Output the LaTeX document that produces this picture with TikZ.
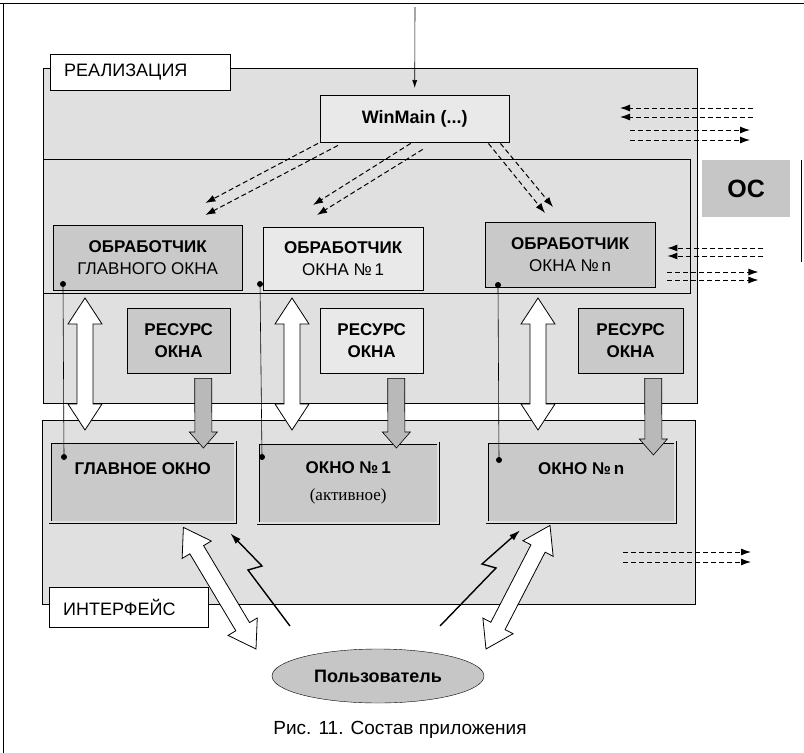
\documentclass[tikz,border=0pt]{standalone}
\usepackage{fontspec}
\setmainfont{Liberation Sans}
\newfontfamily\timesfont{Liberation Serif}
\usetikzlibrary{arrows.meta,positioning,calc,shapes.geometric}

% block arrows between two points (node anchors)
\newcommand{\blockends}[2]{%
  \path (#1) coordinate (bkA) (#2) coordinate (bkB);
  \pgfpointanchor{bkA}{center}\pgfgetlastxy{\bkax}{\bkay}%
  \pgfpointanchor{bkB}{center}\pgfgetlastxy{\bkbx}{\bkby}%
  \pgfmathsetmacro\bklen{veclen(\bkbx-\bkax,\bkby-\bkay)}%
  \pgfmathsetmacro\bkang{atan2(\bkby-\bkay,\bkbx-\bkax)}}
\newcommand{\twoway}[2]{%
  \blockends{#1}{#2}
  \begin{scope}[shift={(\bkax,\bkay)},rotate=\bkang]
    \draw[fill=white,line width=0.8pt] (0,0) -- (26,-17) -- (26,-8) -- (\bklen-26,-8) -- (\bklen-26,-17)
      -- (\bklen,0) -- (\bklen-26,17) -- (\bklen-26,8) -- (26,8) -- (26,17) -- cycle;
  \end{scope}}
\newcommand{\feedarrow}[2]{%
  \blockends{#1}{#2}
  \begin{scope}[shift={(\bkax,\bkay)},rotate=\bkang]
    \draw[fill=gray!55,line width=0.6pt] (0,-8.5) -- (\bklen-16,-8.5) -- (\bklen-16,-14) -- (\bklen,0)
      -- (\bklen-16,14) -- (\bklen-16,8.5) -- (0,8.5) -- cycle;
  \end{scope}}

\begin{document}
\begin{tikzpicture}[x=1pt,y=-1pt,font=\fontsize{17}{22}\selectfont,
  zone/.style={draw,line width=1pt,fill=gray!24,anchor=north west,inner sep=0pt},
  dark/.style={draw,fill=gray!42,anchor=north west,inner sep=0pt,align=center},
  light/.style={draw,fill=gray!17,anchor=north west,inner sep=0pt,align=center},
  tag/.style={draw,fill=white,anchor=north west,inner xsep=14pt,inner ysep=0pt,align=left,font=\fontsize{18}{20}\selectfont},
  win/.style={dark,double=gray!24,double distance=2.5pt,font=\bfseries\fontsize{17}{27}\selectfont},
  dsh/.style={dash pattern=on 5pt off 3pt,line width=1pt,-{Latex[length=10pt,width=7pt]}},
  bolt/.style={line width=1.4pt,-{Latex[length=11pt,width=7pt]}},
  pin/.style={circle,fill,inner sep=0pt,minimum size=6pt}]
  \useasboundingbox[fill=white] (0,0) rectangle (804,753);
  % page frame
  \draw[line width=0.8pt] (0,3) -- (804,3);
  \draw[line width=0.8pt] (3,3) -- (3,753);
  \draw[line width=0.6pt] (801,160) -- (801,262);
  % regions
  \node[zone,minimum width=654pt,minimum height=335pt](impl) at (43,68){};
  \node[draw,line width=1pt,anchor=north west,inner sep=0pt,minimum width=647pt,minimum height=134pt](core) at (43,159){};
  \node[zone,minimum width=653pt,minimum height=184pt](ui) at (42,420){};
  \node[tag,minimum height=36pt,text width=152pt](impltag) at (50,54){РЕАЛИЗАЦИЯ};
  \node[tag,minimum height=40pt,text width=131pt](uitag) at (49,587){ИНТЕРФЕЙС};
  % main function
  \node[light,minimum width=189pt,minimum height=47pt,font=\bfseries\fontsize{18}{20}\selectfont](wm) at (320,95){WinMain (...)};
  \draw[line width=0.6pt,-{Latex[length=8pt,width=5pt]}] (415,7) -- ([yshift=7pt]wm.north);
  % handlers
  \node[dark,minimum width=189pt,minimum height=65pt](h1) at (53,225){\textbf{ОБРАБОТЧИК}\\ГЛАВНОГО ОКНА};
  \node[light,minimum width=160pt,minimum height=63pt](h2) at (263,227){\textbf{ОБРАБОТЧИК}\\ОКНА №\,1};
  \node[dark,minimum width=170pt,minimum height=65pt](h3) at (485,222){\textbf{ОБРАБОТЧИК}\\ОКНА №\,n};
  \node[fill=gray!45,anchor=north west,minimum width=88pt,minimum height=57pt,font=\bfseries\fontsize{25}{27}\selectfont](os) at (702,160){ОС};
  % resources
  \node[dark,minimum width=103pt,minimum height=65pt,font=\bfseries\fontsize{17}{22}\selectfont](r1) at (127,308){РЕСУРС\\ОКНА};
  \node[light,minimum width=103pt,minimum height=65pt,font=\bfseries\fontsize{17}{22}\selectfont](r2) at (320,308){РЕСУРС\\ОКНА};
  \node[dark,minimum width=105pt,minimum height=65pt,font=\bfseries\fontsize{17}{22}\selectfont](r3) at (578,308){РЕСУРС\\ОКНА};
  % windows
  \node[win,minimum width=185pt,minimum height=80pt](w1) at (50,442){ГЛАВНОЕ ОКНО\\~};
  \node[win,minimum width=180pt,minimum height=80pt](w2) at (258,443){ОКНО №\,1\\{\mdseries\timesfont(активное)}};
  \node[win,minimum width=188pt,minimum height=80pt](w3) at (487,442){ОКНО №\,n\\~};
  % white two-way arrows handler -- window
  \twoway{$(core.south west)+(42,4)$}{$(ui.north west)+(43,10)$}
  \twoway{$(core.south west)+(249,4)$}{$(ui.north west)+(250,10)$}
  \twoway{$(core.south west)+(495,4)$}{$(ui.north west)+(496,10)$}
  % resource feeds
  \feedarrow{$(r1.south)+(24.5,5)$}{$(w1.north east)+(-32,6)$}
  \feedarrow{$(r2.south)+(24.5,5)$}{$(w2.north east)+(-42,5)$}
  \feedarrow{$(r3.south)+(22.5,5)$}{$(w3.north east)+(-22,13)$}
  % links handler -- window
  \node[pin](d1) at (63,284){};\node[pin](e1) at (64,457){};
  \node[pin](d2) at (260,284){};\node[pin](e2) at (262,457){};
  \node[pin](d3) at (498,285){};\node[pin](e3) at (499,460){};
  \draw[line width=0.6pt](d1)--(e1);\draw[line width=0.6pt](d2)--(e2);\draw[line width=0.6pt](d3)--(e3);
  % messages from WinMain
  \draw[dsh] ($(wm.south west)+(-2,1)$) -- ($(h1.north east)+(-37,-22)$);
  \draw[dsh] ($(wm.south west)+(18,3)$) -- ($(h1.north east)+(-37,-10)$);
  \draw[dsh] ($(wm.south)+(-4,1)$) -- ($(h2.north west)+(50,-22)$);
  \draw[dsh] ($(wm.south)+(8,7)$) -- ($(h2.north west)+(54,-12)$);
  \draw[dsh] ($(wm.south east)+(-21,1)$) -- ($(h3.north west)+(60,-9)$);
  \draw[dsh] ($(wm.south east)+(-9,1)$) -- ($(h3.north west)+(68,-15)$);
  % messages to and from the OS
  \foreach \dy in {-52,-43} \draw[dsh] ($(os.north west)+(51,\dy)$) -- ($(os.north west)+(-82,\dy)$);
  \foreach \dy in {-30,-20} \draw[dsh] ($(os.north west)+(-72,\dy)$) -- ($(os.north west)+(48,\dy)$);
  \foreach \dy in {26,34} \draw[dsh] ($(h3.north east)+(108,\dy)$) -- ($(h3.north east)+(12,\dy)$);
  \foreach \dy in {50,58} \draw[dsh] ($(h3.north east)+(12,\dy)$) -- ($(h3.north east)+(103,\dy)$);
  \foreach \dy in {132,142} \draw[dsh] ($(ui.north east)+(-73,\dy)$) -- ($(ui.north east)+(55,\dy)$);
  % user
  \node[ellipse,draw,fill=gray!45,minimum width=212pt,minimum height=54pt,font=\bfseries\fontsize{18}{20}\selectfont](usr) at (378,676){Пользователь};
  \twoway{$(w1.south east)+(-52,5)$}{$(usr.center)+(-122,-27)$}
  \twoway{$(w3.south west)+(63,3)$}{$(usr.center)+(108,-27)$}
  \draw[bolt] ($(usr.center)+(-88,-50)$) -- ++(-42,-56) -- ++(14,-4) -- ([shift={(-5pt,-11pt)}]w1.south east);
  \draw[bolt] ($(usr.center)+(62,-50)$) -- ++(56,-58) -- ++(-14,-4) -- ([shift={(33pt,-8pt)}]w3.south west);
  \node[font=\fontsize{19}{22}\selectfont](cap) at (400,730){Рис. 11. Состав приложения};
\end{tikzpicture}
\end{document}
